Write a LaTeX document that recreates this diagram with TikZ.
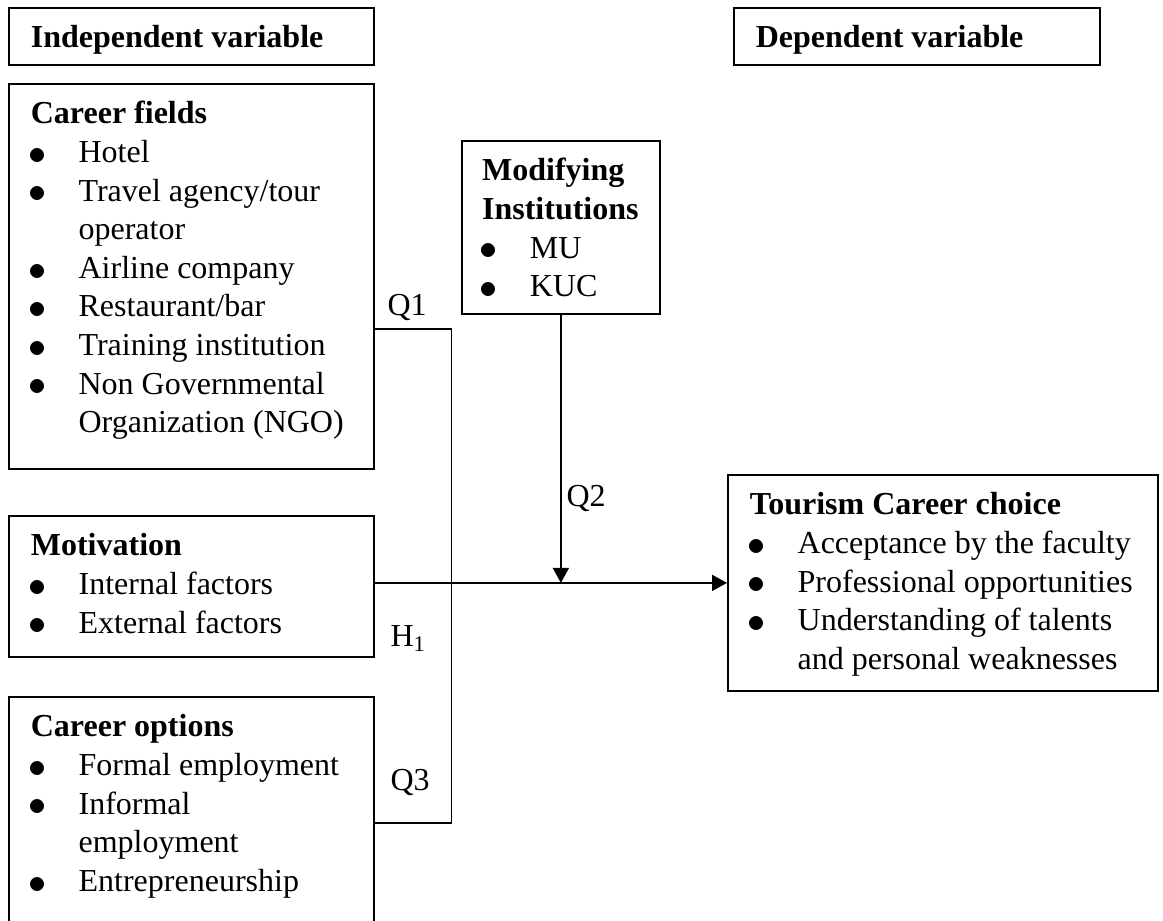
\documentclass[tikz,border=0pt]{standalone}
\usepackage{fontspec}
\setmainfont{Liberation Serif}
\usetikzlibrary{arrows.meta}

\newcommand{\boxtext}[3]{\parbox[t][#2][t]{#1}{\hyphenpenalty=10000\strut#3}}
\newcommand{\dotmark}{\raisebox{-0.7pt}{\fontsize{14.4}{14.4}\selectfont$\bullet$}}
\newcommand{\itm}[1]{\par\noindent\hangindent=19.1pt\hangafter=1\makebox[19.1pt][l]{\hspace{-0.9pt}\dotmark}#1}

\begin{document}
\begin{tikzpicture}[x=0.4pt,y=-0.4pt,font=\fontsize{12.8}{15.44}\selectfont,
  box/.style={draw, line width=0.7pt, anchor=north west, inner xsep=8.8pt, inner ysep=5.2pt},
  arr/.style={line width=0.7pt, -{Triangle[length=6pt,width=6.4pt]}},
  lbl/.style={anchor=base west, inner sep=0pt}]

\path[use as bounding box] (0,0) rectangle (1163,920);

% headings
\node[box] (indep) at (8,7) {\boxtext{128.4pt}{12.4pt}{\textbf{Independent variable}}};
\node[box] (dep) at (733,7) {\boxtext{128.8pt}{12.4pt}{\textbf{Dependent variable}}};

% left column
\node[box] (fields) at (8,83) {\boxtext{128.4pt}{143.6pt}{\textbf{Career fields}
  \itm{Hotel}
  \itm{Travel agency/tour\\operator}
  \itm{Airline company}
  \itm{Restaurant/bar}
  \itm{Training institution}
  \itm{Non Governmental\\Organization (NGO)}}};
\node[box] (motiv) at (8,515) {\boxtext{128.4pt}{46pt}{\textbf{Motivation}
  \itm{Internal factors}
  \itm{External factors}}};
\node[box] (options) at (8,696) {\boxtext{128.4pt}{80.4pt}{\textbf{Career options}
  \itm{Formal employment}
  \itm{Informal\\employment}
  \itm{Entrepreneurship}}};

% moderator and outcome
\node[box, inner xsep=8.1pt] (modif) at (461,140) {\boxtext{63pt}{58.8pt}{\textbf{Modifying}\\\textbf{Institutions}
  \itm{MU}
  \itm{KUC}}};
\node[box] (tour) at (727,474) {\boxtext{154.4pt}{76pt}{\textbf{Tourism Career choice}
  \itm{Acceptance by the faculty}
  \itm{Professional opportunities}
  \itm{Understanding of talents\\and personal weaknesses}}};

% connectors
\coordinate (jt) at (451.5,329.3);
\coordinate (jb) at (451.5,822.7);
\draw[line width=0.7pt] (fields.east |- jt) -- (jt) -- (jb) -- (options.east |- jb);
\draw[arr] (motiv.east |- tour.west) -- (tour.west);
\draw[arr] (modif.south) -- (modif.south |- tour.west);

% labels
\foreach \n/\x/\y/\t in {q1/387/315.7/Q1, q2/566/506/Q2, h1/390/646.7/{H\textsubscript{1}}, q3/390/790/Q3}
  \node[lbl] (\n) at (\x,\y) {\t};

\end{tikzpicture}
\end{document}
